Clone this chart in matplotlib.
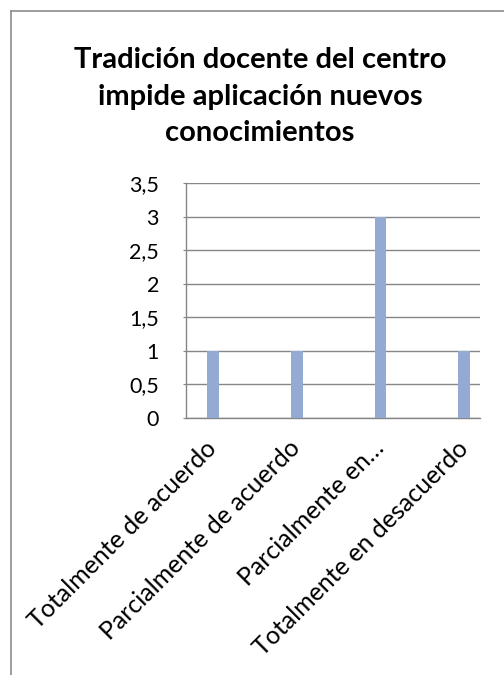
import matplotlib
matplotlib.use('Agg')
import matplotlib.pyplot as plt
from matplotlib.lines import Line2D

# Datos del gráfico
categorias = ['Totalmente de acuerdo', 'Parcialmente de acuerdo',
              'Parcialmente en…', 'Totalmente en desacuerdo']
valores = [1, 1, 3, 1]
marcas_y = [0, 0.5, 1, 1.5, 2, 2.5, 3, 3.5]
etiquetas_y = ['0', '0,5', '1', '1,5', '2', '2,5', '3', '3,5']
titulo = 'Tradición docente del centro\nimpide aplicación nuevos\nconocimientos'

plt.rcParams['font.family'] = ['Lato', 'DejaVu Sans']

fig = plt.figure(figsize=(5.04, 6.75), dpi=100)
ax = fig.add_axes([0.369, 0.3807, 0.583, 0.348])

# Barras
posiciones = list(range(len(categorias)))
ax.bar(posiciones, valores, width=0.14, color='#94AAD2', zorder=3)

ax.set_xlim(-0.321, 3.185)
ax.set_ylim(0, 3.5)
ax.set_yticks(marcas_y)
ax.set_yticklabels(etiquetas_y, fontsize=15.5)
ax.set_xticks(posiciones)
ax.set_xticklabels(categorias, fontsize=18, rotation=45,
                   ha='right', va='center', rotation_mode='anchor')

# Rejilla y ejes en gris
gris = '#868686'
ax.yaxis.grid(True, color=gris, linewidth=1.0)
ax.set_axisbelow(True)
for lado in ['top', 'right']:
    ax.spines[lado].set_visible(False)
for lado in ['left', 'bottom']:
    ax.spines[lado].set_color(gris)
    ax.spines[lado].set_linewidth(1.0)
ax.tick_params(axis='y', length=2.5, color=gris, pad=17)
ax.tick_params(axis='x', length=0, pad=19)

# Titulo (la linea base es la de la ultima linea)
fig.text(0.516, 1 - 141 / 675, titulo, ha='center', va='baseline',
         fontsize=21, fontweight='bold', linespacing=1.5)

# Marco del grafico (recortado a la derecha y abajo)
x0 = 11 / 504
y0 = 1 - 11 / 675
fig.add_artist(Line2D([x0, x0], [0, y0], transform=fig.transFigure,
                      color='#8c8c8c', linewidth=1.2))
fig.add_artist(Line2D([x0, 1], [y0, y0], transform=fig.transFigure,
                      color='#8c8c8c', linewidth=1.2))

fig.savefig('out.png', dpi=100)
